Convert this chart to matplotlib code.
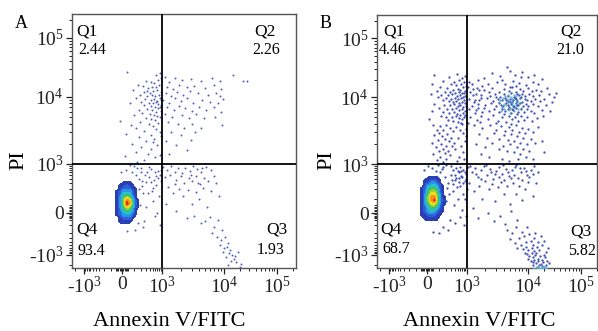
import numpy as np
import matplotlib
matplotlib.use("Agg")
import matplotlib.pyplot as plt
from matplotlib.ticker import FixedLocator, NullFormatter

plt.rcParams['font.family'] = 'Liberation Serif'
plt.rcParams['mathtext.fontset'] = 'custom'
plt.rcParams['mathtext.rm'] = 'Liberation Serif'

# ---- axis ticks (biexponential display) ----
tick_vals = [-1000, 0, 1000, 1e4, 1e5]
tick_labels = ['-$\\mathregular{10^3}$', '0', '$\\mathregular{10^3}$',
               '$\\mathregular{10^4}$', '$\\mathregular{10^5}$']

# quadrant gate and labels
gate_x = 1000
gate_y = 1000
quad_names = ['Q1', 'Q2', 'Q3', 'Q4']
pct_a = ['2.44', '2.26', '1.93', '93.4']
pct_b = ['4.46', '21.0', '5.82', '68.7']

# ---- panel A events (Annexin V, PI) ----
a_q1 = [(40, 26000), (650, 24000), (880, 25000), (300, 19000), (420, 18000), (560, 17500),
        (760, 19500), (150, 16000), (230, 15500), (480, 15000), (620, 14500), (820, 16000),
        (350, 14000), (900, 21000), (90, 13000), (700, 13000), (520, 12500), (260, 12000),
        (940, 12000), (400, 11800), (180, 11000), (330, 10500), (470, 10800), (600, 10200),
        (780, 11000), (850, 9800), (120, 9500), (280, 9200), (420, 9000), (540, 9400),
        (690, 8800), (960, 9000), (200, 8500), (370, 8200), (500, 8000), (640, 8300),
        (760, 7800), (900, 7600), (60, 8000), (250, 7500), (440, 7300), (580, 7100),
        (720, 6900), (830, 7000), (310, 6600), (160, 6500), (480, 6300), (620, 6000),
        (950, 6200), (220, 5800), (390, 5600), (540, 5400), (700, 5200), (100, 5300),
        (860, 5000), (290, 4900), (450, 4700), (600, 4500), (-20, 4400), (180, 4200),
        (760, 4100), (360, 3900), (520, 3700), (130, 3500), (640, 3300), (260, 3100),
        (850, 3000), (30, 2800), (420, 2700), (160, 2500), (560, 2400), (300, 2200),
        (80, 2000), (700, 1900), (200, 1800), (450, 1650), (120, 1500), (350, 1400),
        (20, 1300), (600, 1250), (250, 1150), (140, 1080), (880, 1350), (500, 2100),
        (950, 2600), (70, 3800), (330, 12800)]
a_q2 = [(1100, 22000), (1300, 18000), (1600, 21000), (2100, 19500), (2900, 20500), (4200, 19000),
        (6500, 21000), (8500, 18500), (15000, 24000), (23000, 19000), (27000, 18500), (1200, 15000),
        (1500, 13500), (1900, 16000), (2500, 14500), (3300, 15500), (5000, 14000), (7000, 15800),
        (9000, 13500), (1150, 11500), (1400, 10500), (1750, 12000), (2200, 11000), (2800, 12500),
        (3800, 11500), (5500, 10800), (7500, 11800), (8800, 10500), (1050, 9000), (1300, 8200),
        (1650, 9500), (2000, 8600), (2500, 9800), (3200, 8000), (4500, 9000), (6000, 8500),
        (8000, 8200), (9500, 9200), (1200, 7000), (1550, 6500), (1900, 7300), (2400, 6800),
        (3000, 6200), (3900, 7200), (5200, 6400), (6800, 7000), (9000, 6000), (1100, 5500),
        (1450, 5000), (2100, 5300), (2700, 4800), (3500, 5600), (4700, 4900), (7300, 5100),
        (1250, 4200), (1800, 3900), (2300, 3500), (3100, 4000), (4300, 3400), (9200, 3800),
        (1400, 3000), (2000, 2700), (2900, 2300), (1150, 2200), (1700, 1900), (2500, 1600),
        (1300, 1400), (3400, 3000)]
a_q3 = [(1050, 850), (1200, 700), (1400, 900), (1600, 620), (1850, 800), (2100, 560),
        (2400, 760), (2800, 650), (3200, 880), (3700, 720), (4300, 600), (5200, 820),
        (6300, 700), (1100, 450), (1350, 520), (1700, 380), (2000, 470), (2300, 300),
        (2700, 420), (3100, 350), (3600, 480), (4100, 280), (4800, 430), (5600, 350),
        (7000, 460), (1250, 230), (1500, 150), (1900, 210), (2200, 120), (2600, 190),
        (3000, 60), (3500, 170), (4000, 100), (4600, 220), (5400, 40), (6200, 180),
        (7500, 300), (8200, 120), (1150, 60), (1700, 10), (2500, -40), (3300, -20),
        (4200, -80), (5000, -60), (6000, -30), (7000, -120), (8000, -50), (9200, -150),
        (2900, 520), (4500, 760), (1600, 280), (3800, 300), (6500, -200), (7800, -260),
        (9000, -330), (10500, -280), (12000, -420), (8500, -500), (10000, -620), (11500, -560),
        (13000, -700), (9500, -800), (12500, -900), (14000, -1000), (11000, -1200), (15500, -1300),
        (13500, -1500), (17000, -1700), (12000, -2100), (20000, -2300), (16000, -1100),
        (18500, -800), (21000, -1900)]
a_q4 = [(160, 400), (220, 250), (280, 500), (350, 150), (420, 320), (500, 80), (580, 600),
        (650, 260), (720, 420), (800, 120), (900, 350), (950, 700), (180, 50), (260, -60),
        (330, 620), (450, 720), (520, 220), (610, -20), (700, 0), (860, -100), (240, 150),
        (300, 330), (380, 450), (470, 180), (550, 380), (190, 600), (140, 800), (100, 880),
        (60, 950), (30, 700), (-10, 600), (80, 620), (120, 520), (200, 780), (380, 850),
        (150, -80), (230, -120), (110, -150), (40, -170), (300, 40), (620, 480), (760, 650),
        (880, 500), (170, 200), (210, 350)]

# dense population of panel A: density level (1..9) at grid nodes
a_core_x = [-75, -37, -12, 12, 37, 62, 87, 112, 140, 175]
a_core_y = [-100, -62, -37, -12, 12, 37, 62, 87, 115, 145, 177, 215, 257, 305, 360]
a_core = [[0, 0, 0, 0, 0, 0, 0, 0, 0, 0],
          [0, 0, 1, 1, 1, 1, 0, 0, 0, 0],
          [0, 0, 1, 2, 2, 2, 1, 0, 0, 0],
          [0, 1, 2, 3, 3, 3, 2, 1, 0, 0],
          [0, 1, 2, 4, 5, 4, 3, 1, 0, 0],
          [0, 1, 3, 5, 7, 6, 4, 2, 1, 0],
          [0, 1, 3, 6, 9, 8, 5, 2, 1, 0],
          [0, 1, 3, 6, 8, 7, 4, 2, 1, 0],
          [0, 1, 3, 5, 6, 5, 3, 1, 0, 0],
          [0, 1, 2, 4, 4, 4, 2, 1, 0, 0],
          [0, 1, 2, 3, 3, 3, 2, 1, 0, 0],
          [0, 0, 1, 2, 2, 2, 1, 1, 0, 0],
          [0, 0, 1, 1, 2, 1, 1, 0, 0, 0],
          [0, 0, 0, 1, 1, 1, 0, 0, 0, 0],
          [0, 0, 0, 0, 0, 0, 0, 0, 0, 0]]

# ---- panel B events ----
b_q1 = [(60, 24000), (250, 22000), (480, 25000), (700, 21000), (900, 23000), (150, 19000),
        (380, 18500), (560, 19500), (820, 18000), (40, 17000), (300, 16500), (450, 16000),
        (650, 17000), (930, 15500), (120, 15000), (220, 14500), (520, 14000), (760, 14800),
        (350, 13500), (600, 13200), (880, 13000), (80, 12800), (180, 12200), (280, 12500),
        (420, 12000), (540, 12300), (700, 11800), (830, 12000), (30, 11500), (130, 11000),
        (240, 10800), (330, 11200), (470, 10500), (610, 10900), (750, 10300), (910, 10600),
        (90, 10000), (200, 9800), (300, 9500), (400, 9900), (500, 9300), (650, 9600),
        (800, 9100), (150, 9000), (250, 8700), (360, 8500), (450, 8800), (560, 8300),
        (700, 8600), (870, 8200), (60, 8000), (170, 7800), (280, 7600), (390, 7900),
        (510, 7400), (620, 7700), (760, 7200), (940, 7500), (110, 7000), (220, 6800),
        (320, 6600), (430, 6900), (580, 6400), (690, 6700), (850, 6300), (40, 6200),
        (160, 6000), (260, 5800), (370, 6100), (480, 5700), (600, 5500), (730, 5900),
        (900, 5400), (130, 5300), (200, 5100), (330, 5000), (450, 5200), (540, 4900),
        (680, 4800), (800, 5000), (20, 4700), (240, 4600), (360, 4400), (520, 4300),
        (640, 4100), (50, 3900), (120, 3700), (200, 3800), (280, 3500), (80, 3300),
        (160, 3200), (350, 3100), (100, 2900), (220, 2800), (60, 2700), (140, 2600),
        (300, 2500), (180, 2400), (90, 2300), (250, 2200), (40, 2100), (130, 2000),
        (200, 1900), (320, 1850), (70, 1800), (150, 1700), (240, 1600), (100, 1550),
        (180, 1450), (50, 1400), (280, 1350), (120, 1300), (200, 1200), (80, 1150),
        (150, 1080), (450, 3600), (600, 3300), (750, 2900), (520, 2500), (880, 2200),
        (650, 1900), (420, 1700), (780, 1500), (560, 1300), (920, 3400), (700, 4000),
        (380, 2100), (840, 1200), (480, 1100), (950, 2600)]
b_q2 = [(2200, 17000), (3100, 18500), (4200, 16500), (5600, 19000), (7000, 17500), (9000, 16000),
        (12000, 18000), (3800, 20000), (6300, 15500), (15000, 16500), (1900, 13500), (2600, 14500),
        (3300, 12500), (4000, 14000), (4800, 13000), (5500, 14800), (6200, 12300), (7200, 13800),
        (8300, 12800), (9800, 14200), (11500, 12600), (14000, 13500), (2300, 12200), (5100, 15200),
        (1700, 11000), (2400, 10500), (2900, 11500), (3500, 10200), (4100, 11200), (4600, 10600),
        (5200, 11800), (5800, 10300), (6500, 11400), (7100, 10800), (8000, 11600), (8900, 10400),
        (10500, 11200), (12500, 10600), (16000, 11000), (3000, 10000), (7600, 10100), (1600, 9200),
        (2100, 9700), (2700, 8800), (3200, 9500), (3700, 9000), (4200, 9800), (4700, 8700),
        (5100, 9400), (5600, 9100), (6000, 9900), (6600, 8900), (7300, 9600), (7900, 8600),
        (8700, 9300), (9600, 9000), (11000, 8800), (13500, 9500), (4400, 9200), (5400, 8600),
        (6300, 9400), (1500, 8000), (2000, 7600), (2500, 8300), (3000, 7300), (3400, 8100),
        (3900, 7500), (4300, 8200), (4800, 7200), (5300, 7900), (5700, 7400), (6200, 8100),
        (6800, 7600), (7400, 8300), (8100, 7300), (9000, 7900), (10000, 7500), (12000, 8000),
        (15000, 7400), (3600, 7800), (4600, 7600), (5000, 8400), (5900, 7100), (6500, 7800),
        (1400, 6500), (1900, 6900), (2300, 6200), (2800, 6700), (3300, 6000), (3800, 6800),
        (4200, 6300), (4700, 6600), (5200, 5900), (5700, 6400), (6300, 6900), (6900, 6100),
        (7600, 6600), (8500, 6000), (9500, 6800), (11000, 6200), (13000, 5800), (4000, 5700),
        (5500, 6800), (6600, 5600), (1700, 5200), (2200, 4800), (2700, 5400), (3200, 4500),
        (3700, 5000), (4300, 4300), (4900, 5300), (5500, 4700), (6100, 5100), (6800, 4400),
        (7500, 5200), (8400, 4600), (9600, 5000), (11500, 4500), (14500, 4900), (3000, 4100),
        (5300, 4000), (1050, 15000), (1150, 12500), (1250, 10800), (1100, 9500), (1300, 8500),
        (1200, 7400), (1080, 6600), (1350, 5800), (1150, 5100), (1450, 4600), (1050, 4200),
        (1600, 13200), (1400, 11500), (1700, 9900), (1550, 7000), (1250, 13800), (1800, 6100),
        (1350, 9100), (1650, 4300), (1100, 18000), (1500, 20000), (1900, 21000), (1200, 16500),
        (1800, 15500), (1450, 14600), (2600, 26000), (4500, 33000), (6000, 24000), (8000, 27000),
        (3500, 23000), (10000, 22000), (13000, 23500), (18000, 20500), (5000, 28000), (7500, 22500),
        (17000, 13000), (20000, 9500), (25000, 11500), (30000, 10000), (18000, 6500), (22000, 7800),
        (28000, 8500), (19000, 5200), (33000, 12000), (16500, 8800), (23000, 14500), (26000, 6200),
        (1300, 3800), (1800, 3500), (2400, 3900), (3000, 3300), (3600, 3700), (4200, 3100),
        (4800, 3600), (5500, 3200), (6200, 3800), (7000, 3000), (7800, 3500), (8800, 2900),
        (10000, 3400), (12000, 3000), (15000, 3600), (1600, 2800), (2100, 2500), (2800, 2900),
        (3400, 2400), (4000, 2700), (4600, 2300), (5200, 2800), (5900, 2200), (6600, 2600),
        (7400, 2100), (8300, 2500), (9500, 2000), (11000, 2400), (13500, 2100), (1400, 2000),
        (2000, 1800), (2600, 2100), (3300, 1700), (3900, 1900), (4500, 1600), (5100, 2000),
        (5800, 1500), (6500, 1800), (7200, 1400), (8100, 1700), (9200, 1300), (10500, 1600),
        (12500, 1200), (2300, 1300), (3700, 1200), (4900, 1100), (6800, 1200), (1700, 1400),
        (18000, 2200), (20000, 1500)]
b_q2_dense = [(3500, 9000), (4000, 8000), (4500, 9500), (5000, 7000), (5500, 8500), (6000, 7500),
              (6500, 9000), (4200, 10500), (4800, 6500), (5300, 10000), (3800, 7200), (7000, 8200),
              (5800, 6200), (4400, 7600), (6200, 10500), (3300, 8500), (5100, 8900), (7500, 7000),
              (4700, 11000), (5600, 7800), (3900, 9700), (6800, 6700), (4100, 6800), (5400, 9300),
              (6400, 8300), (4600, 8400), (5900, 10800), (3600, 6300), (7200, 9800), (5000, 5800)]
b_q3 = [(1050, 850), (1200, 600), (1350, 780), (1500, 450), (1700, 700), (1900, 880),
        (2100, 520), (2400, 720), (2700, 400), (3000, 650), (3400, 820), (3800, 550),
        (4300, 760), (4800, 480), (5400, 680), (6000, 850), (6700, 420), (7500, 620),
        (8400, 780), (9500, 500), (11000, 700), (13000, 880), (1100, 300), (1300, 180),
        (1600, 250), (1800, 100), (2000, 350), (2300, 200), (2600, 280), (2900, 80),
        (3200, 230), (3600, 320), (4000, 140), (4500, 260), (5000, 60), (5600, 300),
        (6300, 150), (7000, 250), (7800, 90), (8800, 200), (10000, 330), (12000, 120),
        (1250, 30), (1550, -40), (2200, 0), (2800, -60), (3500, -20), (4200, -90),
        (5200, 10), (6500, -50), (1400, 550), (2500, 600), (3300, 450), (4600, 620),
        (5800, 520), (7200, 800), (8000, 380), (9000, 650), (10500, 450), (12500, 560),
        (14000, 300), (15500, 600), (1150, 900), (2050, 950), (3900, 930), (6400, 960),
        (1700, 400), (2900, 560), (4100, 380), (5300, 430), (4500, -150), (5500, -200),
        (6200, -120), (7000, -300), (7800, -180), (8500, -250), (9300, -400), (10200, -220),
        (11000, -350), (12000, -480), (13000, -300), (14500, -550), (6000, -420), (7500, -500),
        (8200, -650), (9000, -580), (10000, -700), (11500, -620), (12800, -760), (14000, -850),
        (16000, -700), (9600, -120), (13500, -200), (15000, -400), (17000, -250), (18500, -500),
        (20000, -350), (5000, -320), (6600, -600), (8800, -850), (9500, -950), (10500, -1100),
        (11500, -900), (12500, -1200), (13500, -1000), (15000, -1300), (16500, -1100), (18000, -1400),
        (11000, -1500), (12000, -1700), (13000, -1400), (14000, -1800), (15500, -1600), (17000, -1900),
        (19000, -1700), (21000, -1200), (23000, -1500), (12500, -2100), (14500, -2300), (16000, -2000),
        (18000, -2200), (20000, -2400), (22000, -2100), (10000, -1300), (25000, -1800), (20000, -1000),
        (22000, -800), (24000, -600)]
b_q3_edge = [(13000, -2500), (14500, -2500), (16000, -2500), (17500, -2500), (19000, -2500),
             (20500, -2500), (22000, -2500), (15000, -2450), (18000, -2450), (21000, -2450)]
b_q4 = [(120, 600), (180, 450), (240, 300), (300, 520), (360, 180), (420, 380), (500, 100),
        (560, 600), (620, 250), (700, 450), (780, 150), (860, 350), (940, 550), (200, 80),
        (280, -50), (350, 700), (450, 800), (540, 320), (600, -30), (720, 20), (820, -100),
        (260, 150), (330, 380), (400, 500), (480, 230), (580, 420), (660, 660), (740, 300),
        (900, 100), (980, 400), (990, 200), (970, -20), (150, 850), (90, 920), (40, 780),
        (-20, 700), (10, 880), (200, 950), (300, 900), (160, -120), (230, -150), (100, -200),
        (50, -180), (380, 50), (650, 480), (760, 700), (880, 620), (220, 220), (340, 280),
        (460, 420), (520, 650), (140, 720), (70, 650), (600, 850), (410, -80)]

b_core_x = [-75, -37, -12, 12, 37, 62, 87, 112, 140, 172, 215]
b_core_y = [-75, -37, -12, 12, 37, 62, 87, 115, 145, 177, 215, 257, 305, 357, 417, 490]
b_core = [[0, 0, 0, 0, 0, 0, 0, 0, 0, 0, 0],
          [0, 0, 1, 1, 1, 1, 1, 0, 0, 0, 0],
          [0, 1, 1, 2, 2, 2, 1, 1, 0, 0, 0],
          [0, 1, 2, 3, 4, 3, 2, 1, 1, 0, 0],
          [0, 1, 2, 4, 5, 5, 4, 2, 1, 0, 0],
          [0, 1, 3, 5, 7, 7, 5, 3, 1, 1, 0],
          [0, 1, 3, 6, 8, 9, 6, 3, 2, 1, 0],
          [0, 1, 3, 6, 8, 8, 6, 3, 1, 1, 0],
          [0, 1, 3, 5, 7, 7, 5, 3, 1, 0, 0],
          [0, 1, 2, 5, 6, 6, 5, 2, 1, 0, 0],
          [0, 1, 2, 4, 5, 5, 4, 2, 1, 0, 0],
          [0, 0, 2, 3, 4, 4, 3, 2, 1, 0, 0],
          [0, 0, 1, 2, 3, 3, 2, 1, 0, 0, 0],
          [0, 0, 1, 1, 2, 2, 1, 1, 0, 0, 0],
          [0, 0, 0, 1, 1, 1, 1, 0, 0, 0, 0],
          [0, 0, 0, 0, 0, 0, 0, 0, 0, 0, 0]]

density_colors = ['#2a3fb4', '#2f5fd8', '#2a97e4', '#26c3cf', '#38c070',
                  '#96d23a', '#f0e01e', '#f5951c', '#e62e1c']
density_levels = np.arange(0.5, 10.5, 1)


def biex(vals, pos, w=100.0):
    # piecewise arcsinh display, roughly like the cytometer's biexponential axis
    u = np.arcsinh(np.array(vals, float) / w)
    p = np.array(pos, float)
    lo = (p[1] - p[0]) / (u[1] - u[0])
    hi = (p[-1] - p[-2]) / (u[-1] - u[-2])

    def fwd(v):
        uu = np.arcsinh(np.asarray(v, float) / w)
        out = np.interp(uu, u, p)
        out = np.where(uu < u[0], p[0] + (uu - u[0]) * lo, out)
        out = np.where(uu > u[-1], p[-1] + (uu - u[-1]) * hi, out)
        return out

    def inv(q):
        q = np.asarray(q, float)
        uu = np.interp(q, p, u)
        uu = np.where(q < p[0], u[0] + (q - p[0]) / lo, uu)
        uu = np.where(q > p[-1], u[-1] + (q - p[-1]) / hi, uu)
        return w * np.sinh(uu)
    return fwd, inv


minor_vals = ([10, 20, 30, 40, 50, -10, -20, -30, -40, -50] +
              [k * 100 for k in range(1, 10)] + [-k * 100 for k in range(1, 10)] +
              [k * 10 ** e for e in (3, 4, 5) for k in range(2, 10)] + [-2000])


def setup(ax, xlim, ylim):
    ax.set_xscale('function', functions=biex(tick_vals, [12, 50, 90, 152, 205]))
    ax.set_yscale('function', functions=biex(tick_vals, [13, 55, 104, 171, 230]))
    ax.set_xlim(*xlim)
    ax.set_ylim(*ylim)
    for axis in (ax.xaxis, ax.yaxis):
        axis.set_major_locator(FixedLocator(tick_vals))
        axis.set_minor_locator(FixedLocator(minor_vals))
        axis.set_minor_formatter(NullFormatter())
    ax.set_xticklabels(tick_labels)
    ax.set_yticklabels(tick_labels)
    ax.tick_params(which='major', direction='out', length=4, width=0.9, labelsize=14, pad=2,
                   colors='#222222')
    ax.tick_params(which='minor', direction='out', length=2.5, width=0.7, colors='#222222')
    for s in ax.spines.values():
        s.set_color('#555555')
        s.set_linewidth(1.0)
    ax.axvline(gate_x, color='black', lw=1.3, zorder=5)
    ax.axhline(gate_y, color='black', lw=1.3, zorder=5)


def dots(ax, pts, color, size=2.0, alpha=0.9):
    arr = np.array(pts, float)
    ax.scatter(arr[:, 0], arr[:, 1], s=size, c=color, marker='o', linewidths=0,
               alpha=alpha, zorder=3)


def core(ax, xn, yn, levels):
    ax.contourf(xn, yn, np.array(levels, float), levels=density_levels,
                colors=density_colors, zorder=2)


fig = plt.figure(figsize=(5.98, 3.31), dpi=100)
W, H = 598.0, 331.0

ax_a = fig.add_axes([72 / W, (H - 268) / H, 224 / W, 254 / H])
ax_b = fig.add_axes([377 / W, (H - 268) / H, 220 / W, 253 / H])

setup(ax_a, (-2600, 2.3e5), (-2550, 2.55e5))
setup(ax_b, (-2600, 2.0e5), (-2550, 2.5e5))

dot_col = '#3a4db8'
for pts in (a_q1, a_q2, a_q3, a_q4):
    dots(ax_a, pts, dot_col)
core(ax_a, a_core_x, a_core_y, a_core)

# panel B is more crowded, so its events print a touch heavier
for pts in (b_q1, b_q2, b_q3, b_q4):
    dots(ax_b, pts, '#2f42ad', 2.8)
dots(ax_b, b_q2_dense, '#3c9cc6', 2.8, 0.75)
dots(ax_b, b_q3_edge, '#5abbd8', 3.0, 0.8)
core(ax_b, b_core_x, b_core_y, b_core)


def ftext(x, y, s, size, **kw):
    fig.text(x / W, 1 - y / H, s, fontsize=size, ha=kw.pop('ha', 'center'), va='center', **kw)


# quadrant labels
for (qx, qy, px, py), name, p in zip([(87, 31, 92, 50), (265, 31, 266, 50),
                                      (277, 230, 271, 250), (87, 230, 91, 251)],
                                     quad_names, pct_a):
    ftext(qx, qy, name, 12.5)
    ftext(px, py, p, 11.5)
for (qx, qy, px, py), name, p in zip([(394, 31, 393, 50), (571, 31, 570, 50),
                                      (581, 231, 582, 251), (391, 229, 396, 249)],
                                     quad_names, pct_b):
    ftext(qx, qy, name, 12.5)
    ftext(px, py, p, 11.5)

ftext(21, 24, 'A', 13)
ftext(326, 23, 'B', 13)
ftext(19, 160, 'PI', 16, rotation=90)
ftext(327, 160, 'PI', 16, rotation=90)
ftext(169, 321, 'Annexin V/FITC', 16)
ftext(479, 321, 'Annexin V/FITC', 16)

fig.savefig('out.png', dpi=100)
